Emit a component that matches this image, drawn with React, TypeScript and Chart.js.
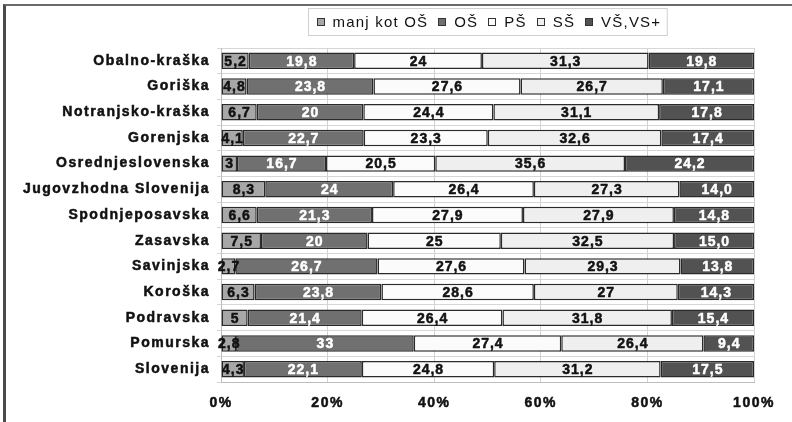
import React, { useEffect, useRef } from "react";
import { Chart, registerables } from "chart.js";

Chart.register(...registerables);

const regions = [
  "Obalno-kraška",
  "Goriška",
  "Notranjsko-kraška",
  "Gorenjska",
  "Osrednjeslovenska",
  "Jugovzhodna Slovenija",
  "Spodnjeposavska",
  "Zasavska",
  "Savinjska",
  "Koroška",
  "Podravska",
  "Pomurska",
  "Slovenija",
];

const seriesNames = ["manj kot OŠ", "OŠ", "PŠ", "SŠ", "VŠ,VS+"];

const manjKotOS = [5.2, 4.8, 6.7, 4.1, 3, 8.3, 6.6, 7.5, 2.7, 6.3, 5, 2.8, 4.3];
const OS = [19.8, 23.8, 20, 22.7, 16.7, 24, 21.3, 20, 26.7, 23.8, 21.4, 33, 22.1];
const PS = [24, 27.6, 24.4, 23.3, 20.5, 26.4, 27.9, 25, 27.6, 28.6, 26.4, 27.4, 24.8];
const SS = [31.3, 26.7, 31.1, 32.6, 35.6, 27.3, 27.9, 32.5, 29.3, 27, 31.8, 26.4, 31.2];
const VS = [19.8, 17.1, 17.8, 17.4, 24.2, 14.0, 14.8, 15.0, 13.8, 14.3, 15.4, 9.4, 17.5];

const xTickLabels = ["0%", "20%", "40%", "60%", "80%", "100%"];

const seriesValues = [manjKotOS, OS, PS, SS, VS];
const fillColors = ["#a7a7a7", "#707070", "#fbfbfb", "#efefef", "#525252"];
const labelColors = ["#111111", "#ffffff", "#111111", "#111111", "#ffffff"];
const FONT = "'Liberation Sans', Arial, sans-serif";

const fmt = (v: number, si: number) =>
  (si === 4 ? v.toFixed(1) : String(v)).replace(".", ",");

const spacingPlugin = {
  id: "spacing",
  beforeLayout(chart: any) {
    chart.ctx.letterSpacing = "1.5px";
  },
  beforeDraw(chart: any) {
    chart.ctx.letterSpacing = "1.5px";
  },
};

const labelPlugin = {
  id: "barLabels",
  afterDatasetsDraw(chart: any) {
    const ctx = chart.ctx;
    ctx.save();
    ctx.letterSpacing = "1px";
    ctx.font = `bold 14px ${FONT}`;
    ctx.textAlign = "center";
    ctx.textBaseline = "middle";
    ctx.lineWidth = 0.5;
    ctx.lineJoin = "round";
    chart.data.datasets.forEach((ds: any, si: number) => {
      const meta = chart.getDatasetMeta(si);
      meta.data.forEach((el: any, i: number) => {
        const cx = (el.x + el.base) / 2 + 0.5;
        const txt = fmt(seriesValues[si][i], si);
        ctx.fillStyle = labelColors[si];
        ctx.strokeStyle = labelColors[si];
        ctx.strokeText(txt, cx, el.y + 1);
        ctx.fillText(txt, cx, el.y + 1);
      });
    });
    ctx.restore();
  },
};

const legendPlugin = {
  id: "boxLegend",
  afterDraw(chart: any) {
    const ctx = chart.ctx;
    const area = chart.chartArea;
    ctx.save();
    ctx.letterSpacing = "1.2px";
    ctx.font = `15px ${FONT}`;
    const sq = 8;
    const gapSqText = 8;
    const gapItems = 10;
    const widths = seriesNames.map((n) => ctx.measureText(n).width);
    let content = 0;
    widths.forEach((w, i) => {
      content += sq + gapSqText + w + (i < widths.length - 1 ? gapItems : 0);
    });
    const padL = 8;
    const padR = 6;
    const boxW = content + padL + padR;
    const cxm = (area.left + area.right) / 2;
    const bx = Math.round(cxm - boxW / 2) + 0.5;
    const by = 8.5;
    const bh = 27;
    ctx.fillStyle = "#ffffff";
    ctx.fillRect(bx, by, boxW, bh);
    ctx.strokeStyle = "#cfcfcf";
    ctx.lineWidth = 1;
    ctx.strokeRect(bx, by, boxW, bh);
    let x = bx + padL;
    const cy = by + bh / 2;
    ctx.textBaseline = "middle";
    ctx.textAlign = "left";
    seriesNames.forEach((n, i) => {
      ctx.fillStyle = fillColors[i];
      ctx.fillRect(Math.round(x), Math.round(cy - sq / 2), sq, sq);
      ctx.strokeStyle = "#333333";
      ctx.lineWidth = 1;
      ctx.strokeRect(Math.round(x) + 0.5, Math.round(cy - sq / 2) + 0.5, sq - 1, sq - 1);
      x += sq + gapSqText;
      ctx.fillStyle = "#111111";
      ctx.fillText(n, x, cy + 1);
      x += widths[i] + gapItems;
    });
    ctx.restore();
  },
};

export default function App() {
  const ref = useRef<HTMLCanvasElement | null>(null);

  useEffect(() => {
    if (!ref.current) return;
    const totals = regions.map((_, i) =>
      seriesValues.reduce((s, arr) => s + arr[i], 0)
    );
    const chart = new Chart(ref.current, {
      type: "bar",
      data: {
        labels: regions,
        datasets: seriesNames.map((name, si) => ({
          label: name,
          data: seriesValues[si].map((v, i) => (v / totals[i]) * 100),
          backgroundColor: fillColors[si],
          borderColor: "#2a2a2a",
          borderWidth: 1.5,
          borderSkipped: false,
          barPercentage: 0.64,
          categoryPercentage: 1,
        })),
      },
      options: {
        indexAxis: "y",
        animation: false,
        responsive: true,
        maintainAspectRatio: false,
        devicePixelRatio: 1,
        layout: { padding: { left: 0, right: 38, top: 48, bottom: 0 } },
        plugins: {
          legend: { display: false },
          tooltip: { enabled: false },
        },
        scales: {
          x: {
            stacked: true,
            min: 0,
            max: 100,
            afterFit(scale: any) {
              scale.height = 40;
            },
            ticks: {
              stepSize: 20,
              padding: 13,
              color: "#111111",
              textStrokeColor: "#111111",
              textStrokeWidth: 0.5,
              font: { family: FONT, size: 14, weight: "bold" },
              callback: (_v: any, i: number) => xTickLabels[i],
            },
            grid: { color: "#d2d2d2", lineWidth: 1, drawTicks: false },
            border: { display: true, color: "#bdbdbd" },
          },
          y: {
            stacked: true,
            afterFit(scale: any) {
              scale.width = 221;
            },
            ticks: {
              padding: 7,
              color: "#111111",
              textStrokeColor: "#111111",
              textStrokeWidth: 0.5,
              font: { family: FONT, size: 14, weight: "bold" },
            },
            grid: { color: "#d6d6d6", lineWidth: 1, tickLength: 4, offset: true },
            border: { display: true, color: "#bdbdbd" },
          },
        },
      },
      plugins: [spacingPlugin, labelPlugin, legendPlugin],
    });
    return () => chart.destroy();
  }, []);

  return (
    <div
      style={{
        position: "fixed",
        left: 0,
        top: 0,
        width: 792,
        height: 422,
        background: "#ffffff",
        overflow: "hidden",
      }}
    >
      <div
        style={{
          position: "absolute",
          left: 3,
          top: 4,
          width: 900,
          height: 500,
          borderLeft: "3px solid #4a4a4a",
          borderTop: "2px solid #6a6a6a",
          boxSizing: "border-box",
        }}
      />
      <div style={{ position: "absolute", left: 0, top: 0, width: 792, height: 422 }}>
        <canvas ref={ref} />
      </div>
    </div>
  );
}
